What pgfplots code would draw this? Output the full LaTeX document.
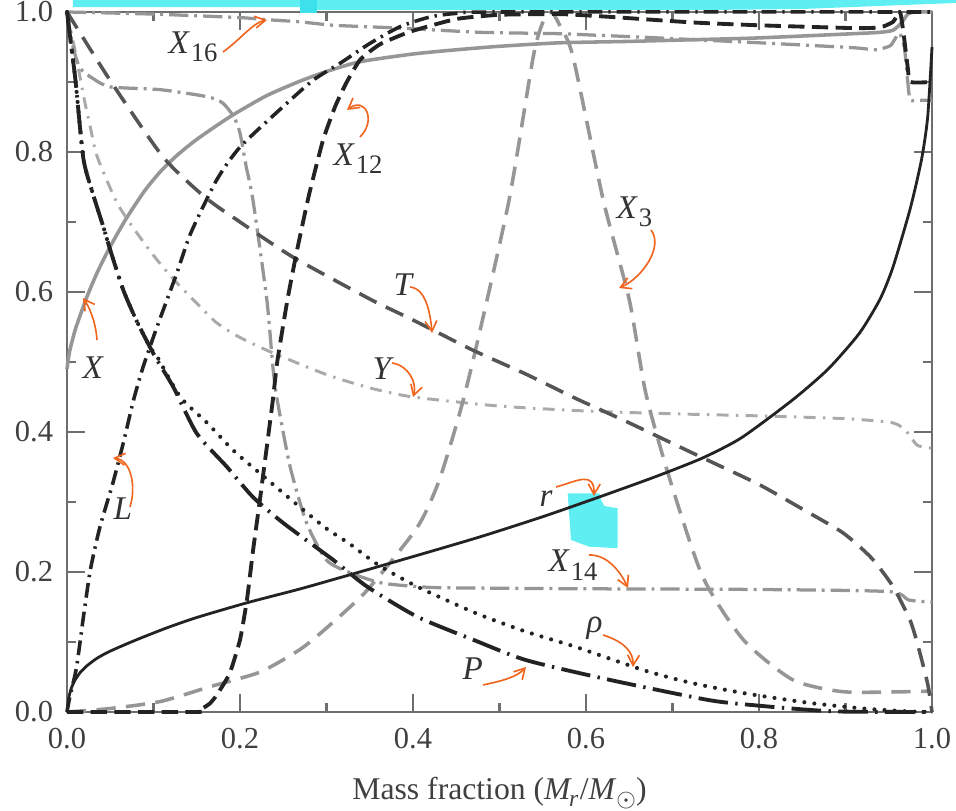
\documentclass[border=0pt]{standalone}
\usepackage{pgfplots}
\pgfplotsset{compat=1.18}
\usepackage{fontspec}
\setmainfont{Liberation Serif}
\usetikzlibrary{arrows.meta}
\definecolor{cyanmark}{RGB}{95,238,242}
\definecolor{cyandark}{RGB}{60,225,235}
\definecolor{ann}{RGB}{240,100,30}
\definecolor{axgray}{RGB}{110,110,110}
\definecolor{cgray}{RGB}{150,150,150}
\definecolor{cgrayl}{RGB}{170,170,170}
\definecolor{cdark}{RGB}{85,85,85}
\definecolor{cblack}{RGB}{35,35,35}
\newcommand{\lab}[2]{\textit{#1}\kern0.3pt\raisebox{-3pt}{\fontsize{9}{10}\selectfont #2}}
\begin{document}
\begin{tikzpicture}
\begin{axis}[
  at={(0,0)}, anchor=south west,
  scale only axis, width=292.25pt, height=236.5pt,
  xmin=0, xmax=1, ymin=0, ymax=1,
  clip=false,
  xtick={0,0.2,0.4,0.6,0.8,1}, ytick={0,0.2,0.4,0.6,0.8,1},
  minor tick num=1,
  tick align=inside, xtick pos=both, ytick pos=both,
  xticklabel pos=bottom, yticklabel pos=left,
  major tick length=6.2pt, minor tick length=3.2pt,
  axis line style={axgray, line width=0.75pt},
  every tick/.style={axgray, line width=0.75pt},
  /pgf/number format/assume math mode=true,
  /pgf/number format/.cd, fixed, fixed zerofill, precision=1, /pgfplots/.cd,
  ticklabel style={font=\fontsize{10.3}{12}\selectfont, text=black!75},
  yticklabel style={xshift=-1.2pt},
  xticklabel style={yshift=-2pt},
  xlabel={Mass fraction (\textit{M\kern-0.5pt}\raisebox{-2.2pt}{\fontsize{8}{8}\selectfont\textit{r}}\kern0.5pt/\textit{M}\raisebox{-2.2pt}{\fontsize{8}{8}\selectfont$\odot$})},
  xlabel style={at={(axis description cs:0.5,0)}, anchor=base, yshift=-29.7pt, font=\fontsize{10.7}{12}\selectfont, text=black!75},
]
% cyan highlight marks
\fill[cyanmark] (axis cs:0.0069,1.0171) -- (axis cs:1.0277,1.0171) -- (axis cs:1.0277,1.0129) -- (axis cs:0.85,1.0043) -- (axis cs:0.742,1.0029) -- (axis cs:0.4775,1.0029) -- (axis cs:0.289,1.003) -- (axis cs:0.289,0.9986) -- (axis cs:0.2694,0.9986) -- (axis cs:0.2694,1.0071) -- (axis cs:0.0069,1.0071) -- cycle;
\fill[cyandark] (axis cs:0.2694,1.0171) rectangle (axis cs:0.289,0.9986);
\fill[cyanmark] (axis cs:0.5788,0.3124) -- (axis cs:0.6154,0.3124) -- (axis cs:0.6173,0.3029) -- (axis cs:0.6212,0.2943) -- (axis cs:0.6366,0.2910) -- (axis cs:0.6366,0.2339) -- (axis cs:0.6038,0.2361) -- (axis cs:0.5827,0.2457) -- cycle;

% X (hydrogen) solid gray
\addplot[cgray, line width=1.2pt, smooth, tension=0.4] coordinates {
(0,0.49) (0.003,0.515) (0.01,0.548) (0.023,0.593) (0.035,0.628) (0.05,0.665) (0.069,0.706) (0.09,0.745) (0.108,0.772) (0.127,0.795) (0.15,0.818) (0.188,0.85) (0.23,0.88) (0.269,0.901) (0.3,0.915) (0.339,0.929) (0.4,0.94) (0.45,0.946) (0.5,0.951) (0.57,0.956) (0.65,0.958) (0.743,0.961) (0.8,0.963) (0.909,0.969) (0.94,0.971) (0.955,0.974) (0.965,0.985) (0.972,0.997) (0.98,1.0) (1.0,1.0)};

% Y (helium) light gray dash-dot
\addplot[cgrayl, line width=1pt, smooth, tension=0.4, dash pattern=on 4pt off 2.5pt on 0.8pt off 2.5pt] coordinates {
(0,1.0) (0.005,0.97) (0.01,0.94) (0.02,0.875) (0.027,0.835) (0.035,0.793) (0.058,0.727) (0.081,0.684) (0.104,0.646) (0.127,0.613) (0.154,0.579) (0.173,0.556) (0.2,0.535) (0.238,0.513) (0.3,0.482) (0.35,0.463) (0.4,0.45) (0.5,0.437) (0.6,0.43) (0.7,0.426) (0.8,0.423) (0.9,0.419) (0.955,0.413) (0.971,0.4) (0.983,0.381) (1.0,0.377)};

% X14 gray dash-dot
\addplot[cgray, line width=1.1pt, smooth, tension=0.4, dash pattern=on 6.5pt off 2pt on 1pt off 2pt] coordinates {
(0,1.0) (0.007,0.95) (0.015,0.92) (0.03,0.905) (0.05,0.893) (0.108,0.889) (0.162,0.879) (0.18,0.87) (0.193,0.85) (0.2,0.827) (0.207,0.78) (0.215,0.731) (0.231,0.589) (0.238,0.493) (0.243,0.446) (0.258,0.35) (0.277,0.27) (0.3,0.217) (0.327,0.199) (0.365,0.184) (0.42,0.178) (0.477,0.177) (0.6,0.176) (0.8,0.175) (0.95,0.172) (0.973,0.16) (1.0,0.157)};

% X16 gray dash-dot
\addplot[cgray, line width=1.1pt, smooth, tension=0.3, dash pattern=on 6.5pt off 2pt on 1pt off 2pt] coordinates {
(0,1.0) (0.1,0.997) (0.2,0.992) (0.231,0.989) (0.269,0.986) (0.308,0.981) (0.385,0.977) (0.477,0.971) (0.57,0.969) (0.608,0.967) (0.666,0.964) (0.8,0.956) (0.909,0.949) (0.935,0.946) (0.952,0.952) (0.962,0.97) (0.968,0.95) (0.972,0.9) (0.975,0.874) (0.99,0.874) (1.0,0.874)};

% X3 gray dashed
\addplot[cgray, line width=1.2pt, smooth, tension=0.4, dash pattern=on 6.5pt off 3.5pt] coordinates {
(0,0) (0.05,0.005) (0.108,0.015) (0.165,0.036) (0.223,0.057) (0.269,0.089) (0.3,0.12) (0.347,0.174) (0.405,0.264) (0.43,0.33) (0.454,0.427) (0.473,0.521) (0.511,0.731) (0.539,0.936) (0.55,0.985) (0.56,1.0) (0.57,0.98) (0.585,0.936) (0.62,0.731) (0.65,0.589) (0.669,0.456) (0.696,0.336) (0.735,0.193) (0.782,0.103) (0.839,0.046) (0.897,0.029) (0.973,0.029) (1.0,0.03)};

% T dark gray dashed
\addplot[cdark, line width=1.2pt, smooth, tension=0.4, dash pattern=on 6.5pt off 3.5pt] coordinates {
(0,1.0) (0.05,0.902) (0.111,0.793) (0.16,0.735) (0.2,0.7) (0.261,0.65) (0.35,0.59) (0.4,0.56) (0.469,0.517) (0.53,0.483) (0.588,0.448) (0.65,0.413) (0.735,0.363) (0.8,0.325) (0.85,0.29) (0.897,0.256) (0.93,0.22) (0.955,0.179) (0.975,0.13) (0.985,0.089) (0.995,0.04) (1.0,0.0)};

% r solid dark
\addplot[cblack, line width=0.95pt, smooth, tension=0.4] coordinates {
(0,0) (0.002,0.02) (0.005,0.034) (0.009,0.045) (0.015,0.056) (0.023,0.066) (0.035,0.077) (0.05,0.087) (0.08,0.103) (0.115,0.12) (0.15,0.135) (0.208,0.156) (0.27,0.176) (0.327,0.196) (0.4,0.222) (0.477,0.25) (0.55,0.279) (0.615,0.307) (0.68,0.336) (0.735,0.363) (0.78,0.392) (0.839,0.446) (0.88,0.49) (0.916,0.541) (0.94,0.59) (0.955,0.636) (0.975,0.72) (0.988,0.79) (0.995,0.85) (1.0,0.95)};

% L black dash-dot
\addplot[cblack, line width=1.2pt, smooth, tension=0.4, dash pattern=on 5pt off 2pt on 0.8pt off 2pt] coordinates {
(0,0) (0.003,0.02) (0.011,0.064) (0.019,0.136) (0.027,0.203) (0.038,0.264) (0.053,0.327) (0.065,0.384) (0.077,0.446) (0.088,0.493) (0.104,0.55) (0.127,0.627) (0.143,0.684) (0.173,0.76) (0.2,0.807) (0.25,0.865) (0.285,0.903) (0.316,0.927) (0.35,0.955) (0.385,0.979) (0.42,0.993) (0.45,0.998) (0.5,1.0) (1.0,1.0)};

% X12 black dashed
\addplot[cblack, line width=1.3pt, smooth, tension=0.3, dash pattern=on 5.5pt off 2.5pt] coordinates {
(0,0) (0.15,0) (0.154,0.003) (0.165,0.012) (0.173,0.024) (0.188,0.055) (0.2,0.103) (0.208,0.16) (0.215,0.23) (0.223,0.303) (0.238,0.446) (0.243,0.5) (0.255,0.59) (0.266,0.66) (0.28,0.74) (0.296,0.817) (0.31,0.865) (0.323,0.899) (0.339,0.932) (0.362,0.954) (0.397,0.972) (0.45,0.99) (0.5,0.996) (0.57,0.997) (0.628,0.993) (0.724,0.985) (0.8,0.981) (0.909,0.977) (0.94,0.978) (0.955,0.986) (0.963,1.0) (0.967,0.97) (0.972,0.92) (0.975,0.9) (1.0,0.9)};

% rho dotted black
\addplot[cblack, line width=1.4pt, line cap=round, smooth, tension=0.4, dash pattern=on 0pt off 3.4pt] coordinates {
(0,1.0) (0.005,0.95) (0.01,0.9) (0.019,0.79) (0.03,0.74) (0.042,0.693) (0.05,0.66) (0.065,0.603) (0.08,0.56) (0.096,0.521) (0.104,0.508) (0.131,0.45) (0.162,0.413) (0.192,0.374) (0.223,0.341) (0.269,0.293) (0.3,0.262) (0.327,0.24) (0.36,0.21) (0.405,0.179) (0.473,0.141) (0.53,0.115) (0.588,0.093) (0.666,0.06) (0.72,0.042) (0.782,0.027) (0.858,0.013) (0.92,0.005) (0.97,0.001) (1.0,0)};

% P black long dash-dot
\addplot[cblack, line width=1.3pt, smooth, tension=0.4, dash pattern=on 10pt off 2.5pt on 0.8pt off 2.5pt] coordinates {
(0,1.0) (0.005,0.95) (0.01,0.9) (0.019,0.79) (0.03,0.74) (0.042,0.693) (0.05,0.66) (0.065,0.603) (0.08,0.56) (0.096,0.521) (0.104,0.503) (0.123,0.464) (0.15,0.398) (0.185,0.35) (0.215,0.307) (0.25,0.27) (0.308,0.217) (0.347,0.179) (0.405,0.136) (0.47,0.103) (0.531,0.074) (0.627,0.046) (0.742,0.017) (0.8,0.009) (0.858,0.003) (0.9,0.0005) (1.0,0)};

% curve labels
\begin{scope}[every node/.style={inner sep=0pt, anchor=base west, text=black!80, font=\fontsize{11.2}{13}\selectfont}]
\node at (axis cs:0.1168,0.9414) {\lab{X}{16}};
\node at (axis cs:0.3075,0.7814) {\lab{X}{12}};
\node at (axis cs:0.6347,0.7057) {\lab{X}{3}};
\node at (axis cs:0.3769,0.5957) {\textit{T}};
\node at (axis cs:0.3526,0.4743) {\textit{Y}};
\node at (axis cs:0.0173,0.4771) {\textit{X}};
\node at (axis cs:0.0532,0.2743) {\textit{L}};
\node at (axis cs:0.5457,0.2929) {\textit{r}};
\node at (axis cs:0.5561,0.2) {\lab{X}{14}};
\node at (axis cs:0.6,0.113) {\textit{ρ}};
\node at (axis cs:0.4566,0.0457) {\textit{P}};
\end{scope}

% orange hand annotations
\begin{scope}[ann, line width=0.55pt, -{Straight Barb[length=3.5pt,width=4pt]}]
\draw (axis cs:0.1803,0.9429) .. controls (axis cs:0.2,0.96) and (axis cs:0.215,0.985) .. (axis cs:0.2312,0.9886);
\draw (axis cs:0.3387,0.8214) .. controls (axis cs:0.358,0.845) and (axis cs:0.345,0.88) .. (axis cs:0.3237,0.86);
\draw (axis cs:0.6751,0.6886) .. controls (axis cs:0.69,0.665) and (axis cs:0.665,0.62) .. (axis cs:0.6382,0.6057);
\draw (axis cs:0.3965,0.6071) .. controls (axis cs:0.415,0.605) and (axis cs:0.42,0.57) .. (axis cs:0.422,0.5414);
\draw (axis cs:0.3757,0.4986) .. controls (axis cs:0.395,0.495) and (axis cs:0.405,0.47) .. (axis cs:0.4,0.45);
\draw (axis cs:0.0347,0.5314) .. controls (axis cs:0.033,0.56) and (axis cs:0.025,0.58) .. (axis cs:0.0185,0.5914);
\draw (axis cs:0.0728,0.2929) .. controls (axis cs:0.08,0.32) and (axis cs:0.075,0.36) .. (axis cs:0.0532,0.3629);
\draw (axis cs:0.5653,0.3214) .. controls (axis cs:0.59,0.33) and (axis cs:0.61,0.345) .. (axis cs:0.6092,0.3086);
\draw (axis cs:0.6035,0.2243) .. controls (axis cs:0.625,0.225) and (axis cs:0.64,0.2) .. (axis cs:0.6486,0.1771);
\draw (axis cs:0.6197,0.11) .. controls (axis cs:0.645,0.1) and (axis cs:0.655,0.085) .. (axis cs:0.6543,0.0643);
\draw (axis cs:0.4809,0.0386) .. controls (axis cs:0.505,0.045) and (axis cs:0.52,0.05) .. (axis cs:0.5306,0.0643);
\end{scope}
\end{axis}
\pgfresetboundingbox
\path[use as bounding box] (-22.64pt,-33.45pt) rectangle (300.36pt,240.55pt);
\end{tikzpicture}
\end{document}
